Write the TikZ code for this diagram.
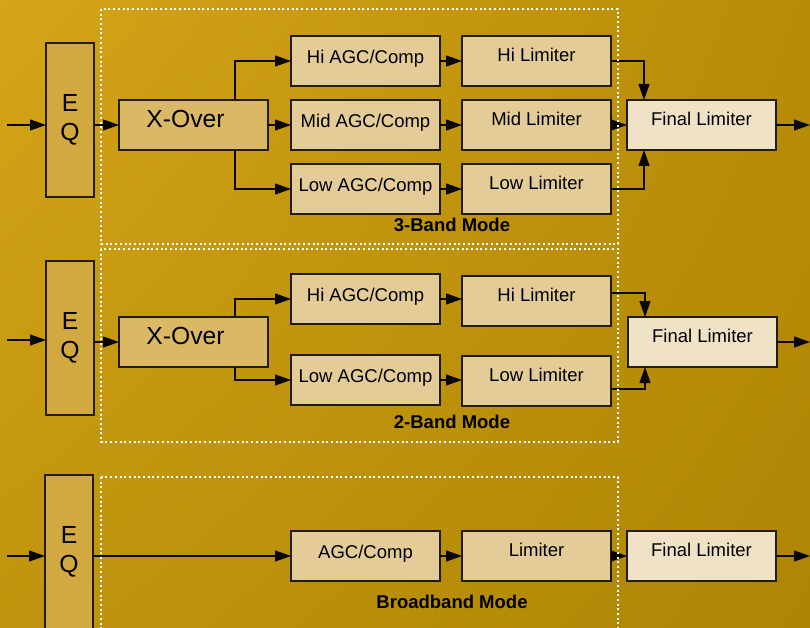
\documentclass[tikz,border=0pt]{standalone}
\usepackage{fontspec}
\setmainfont{Liberation Sans}
\usetikzlibrary{positioning, arrows.meta, shadings}
\definecolor{goldlight}{RGB}{213,165,24}
\definecolor{goldright}{RGB}{184,140,8}
\definecolor{goldleft}{RGB}{192,148,14}
\definecolor{golddark}{RGB}{174,134,4}
\definecolor{eqfill}{RGB}{210,168,64}
\definecolor{xoverfill}{RGB}{218,184,102}
\definecolor{bandfill}{RGB}{228,204,152}
\definecolor{finalfill}{RGB}{240,226,198}
\definecolor{edgedark}{RGB}{34,28,14}

\begin{document}
\begin{tikzpicture}[
    x=1pt, y=-1pt,
    node distance=14pt and 22pt,
    block/.style={draw=edgedark, line width=1.4pt, inner sep=0pt, outer sep=0pt, minimum width=149pt, minimum height=50pt, align=center, text=black, font=\fontsize{18.5}{22}\selectfont},
    eqbox/.style={block, fill=eqfill, minimum width=48pt, minimum height=154pt, font=\fontsize{24.7}{29}\selectfont},
    xoverbox/.style={block, fill=xoverfill, text height=19pt, text depth=14pt, font=\fontsize{24.7}{29}\selectfont},
    agcbox/.style={block, fill=bandfill, text height=14pt, text depth=8.5pt},
    limbox/.style={block, fill=bandfill, text height=14pt, text depth=12.5pt},
    finalbox/.style={block, fill=finalfill, text height=14pt, text depth=12.5pt},
    modeframe/.style={draw=white, line width=2pt, dash pattern=on 2pt off 2.7pt},
    modelabel/.style={font=\bfseries\fontsize{18.5}{22}\selectfont, text=black},
    arrow/.style={-{Triangle[length=16pt,width=11pt]}, line width=1.1pt, draw=black!95!brown}
  ]
  \useasboundingbox (0,0) rectangle (810,628);
  \shade[upper left=goldlight, upper right=goldright, lower left=goldleft, lower right=golddark] (0,0) rectangle (810,628);

  % 3-band mode
  \node[agcbox] (midagcA) at (365.5,125) {Mid AGC/Comp};
  \node[agcbox, above=of midagcA] (hiagcA) {Hi AGC/Comp};
  \node[agcbox, below=of midagcA] (lowagcA) {Low AGC/Comp};
  \node[limbox, right=of hiagcA] (hilimA) {Hi Limiter};
  \node[limbox, right=of midagcA] (midlimA) {Mid Limiter};
  \node[limbox, right=of lowagcA] (lowlimA) {Low Limiter};
  \node[finalbox, right=16pt of midlimA] (finalA) {Final Limiter};
  \node[xoverbox, left=23pt of midagcA] (xoverA) {X-Over\rule{16pt}{0pt}};
  \node[eqbox, left=25pt of xoverA, yshift=5pt] (eqA) {E\\Q};
  \node[modelabel] (labelA) at (452,225) {3-Band Mode};
  \coordinate (inA) at (7,125);
  \coordinate (outA) at (810,125);

  \draw[arrow] (inA) -- (eqA.west |- inA);
  \draw[arrow] (eqA.east |- xoverA) -- (xoverA);
  \draw[arrow] ([xshift=-33pt]xoverA.north east) |- (hiagcA);
  \draw[arrow] (xoverA) -- (midagcA);
  \draw[arrow] ([xshift=-33pt]xoverA.south east) |- (lowagcA);
  \foreach \band in {hi,mid,low}
    \draw[arrow] (\band agcA) -- (\band limA);
  \draw[arrow] (hilimA) -| ([xshift=17pt]finalA.north west);
  \draw[arrow] (midlimA) -- (finalA);
  \draw[arrow] (lowlimA) -| ([xshift=17pt]finalA.south west);
  \draw[arrow] (finalA) -- (outA);

  % 2-band mode
  \node[agcbox] (hiagcB) at (365.5,299) {Hi AGC/Comp};
  \node[agcbox, below=31pt of hiagcB] (lowagcB) {Low AGC/Comp};
  \node[limbox, right=of hiagcB, yshift=-2pt] (hilimB) {Hi Limiter};
  \node[limbox, right=of lowagcB, yshift=-1pt] (lowlimB) {Low Limiter};
  \node[finalbox] (finalB) at (702.5,342) {Final Limiter};
  \node[xoverbox] (xoverB) at (193.5,342) {X-Over\rule{16pt}{0pt}};
  \node[eqbox, left=25pt of xoverB, yshift=4pt] (eqB) {E\\Q};
  \node[modelabel] (labelB) at (452,422) {2-Band Mode};
  \coordinate (inB) at (7,340);
  \coordinate (outB) at (810,342);

  \draw[arrow] (inB) -- (eqB.west |- inB);
  \draw[arrow] (eqB.east |- xoverB) -- (xoverB);
  \draw[arrow] ([xshift=-33pt]xoverB.north east) |- (hiagcB);
  \draw[arrow] ([xshift=-33pt]xoverB.south east) |- (lowagcB);
  \draw[arrow] (hiagcB) -- (hiagcB -| hilimB.west);
  \draw[arrow] (lowagcB) -- (lowagcB -| lowlimB.west);
  \draw[arrow] ([yshift=8pt]hilimB.east) -| ([xshift=17pt]finalB.north west);
  \draw[arrow] ([yshift=-8pt]lowlimB.east) -| ([xshift=17pt]finalB.south west);
  \draw[arrow] (finalB) -- (outB);

  % broadband mode
  \node[agcbox] (agcC) at (365.5,556) {AGC/Comp};
  \node[limbox, right=of agcC] (limC) {Limiter};
  \node[finalbox, right=16pt of limC] (finalC) {Final Limiter};
  \node[eqbox] (eqC) at (69,552) {E\\Q};
  \node[modelabel] (labelC) at (452,602) {Broadband Mode};
  \coordinate (inC) at (7,556);
  \coordinate (outC) at (810,556);

  \draw[arrow] (inC) -- (eqC.west |- inC);
  \draw[arrow] (eqC.east |- agcC) -- (agcC);
  \draw[arrow] (agcC) -- (limC);
  \draw[arrow] (limC) -- (finalC);
  \draw[arrow] (finalC) -- (outC);

  % mode frames
  \draw[modeframe] (101,9) rectangle (618,244);
  \draw[modeframe] (101,249) rectangle (618,442);
  \draw[modeframe] (101,477) rectangle (618,640);
\end{tikzpicture}
\end{document}
